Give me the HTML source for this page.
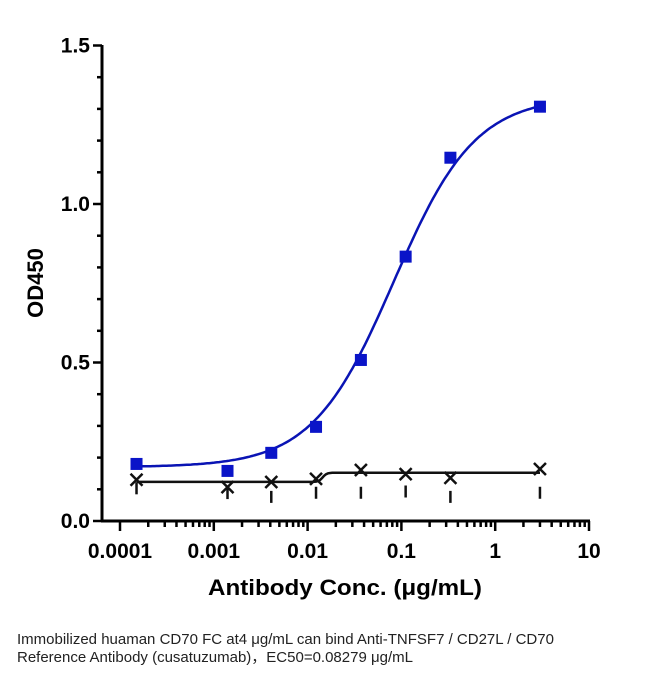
<!DOCTYPE html>
<html><head><meta charset="utf-8"><style>
body{margin:0;background:#fff;width:666px;height:677px;overflow:hidden}
svg{display:block;font-family:"Liberation Sans",Arial,sans-serif}
.cap{position:absolute;left:17px;top:631px;font-family:"Liberation Sans","Noto Sans CJK SC",sans-serif;font-size:15px;color:#222;line-height:18px;white-space:nowrap}
</style></head><body>
<svg id="chart" width="666" height="677" viewBox="0 0 666 677"></svg>
<div class="cap">Immobilized huaman CD70 FC at4 μg/mL can bind  Anti-TNFSF7 / CD27L / CD70<br>Reference Antibody (cusatuzumab)，EC50=0.08279 μg/mL</div>
<script>
const conc = [0.00015,0.0014,0.0041,0.0123,0.037,0.111,0.333,3.0];
const blueVals = [0.180,0.158,0.215,0.297,0.508,0.834,1.146,1.307];
const blackVals = [0.130,0.107,0.123,0.133,0.161,0.148,0.136,0.164];
const blackErrLow = [0.122,0.107,0.095,0.108,0.108,0.112,0.095,0.108];
const yTicks = [0.0,0.5,1.0,1.5];
const yTickLabels = ["0.0","0.5","1.0","1.5"];
const xTicks = [0.0001,0.001,0.01,0.1,1,10];
const xTickLabels = ["0.0001","0.001","0.01","0.1","1","10"];
const fitBottom=0.17, fitTop=1.34, fitEC50=0.08279, fitHill=1.0;

const NS="http://www.w3.org/2000/svg";
const svg=document.getElementById('chart');
const X0=120, DEC=93.8, Y0=521, YS=317;
const xs=v=>X0+(Math.log10(v)+4)*DEC;
const ys=v=>Y0-v*YS;
function mk(t,a,p){const e=document.createElementNS(NS,t);for(const k in a)e.setAttribute(k,a[k]);(p||svg).appendChild(e);return e;}

let e=mk('line',{x1:102,y1:45,x2:102,y2:522,stroke:'#000','stroke-width':3});


e=mk('line',{x1:101,y1:521,x2:590,y2:521,stroke:'#000','stroke-width':3});


for(let i=0;i<=15;i++){const v=i/10,y=ys(v),maj=i%5===0;
  mk('line',{x1:maj?93:97,y1:y,x2:102,y2:y,stroke:'#000','stroke-width':2.5});}
yTicks.forEach((v,i)=>{const t=mk('text',{x:90,y:ys(v)+7,'text-anchor':'end','font-size':21,'font-weight':'bold'});t.textContent=yTickLabels[i];

});
for(let d=-4;d<1;d++)for(let m=1;m<=9;m++){const x=xs(m*Math.pow(10,d));
  mk('line',{x1:x,y1:521,x2:x,y2:m===1?531:527,stroke:'#000','stroke-width':2.5});}
mk('line',{x1:xs(10),y1:521,x2:xs(10),y2:531,stroke:'#000','stroke-width':2.5});
xTicks.forEach((v,i)=>{const t=mk('text',{x:xs(v),y:558,'text-anchor':'middle','font-size':21,'font-weight':'bold'});t.textContent=xTickLabels[i];

});
e=mk('text',{x:208,y:595,'font-size':22,'font-weight':'bold',textLength:274,lengthAdjust:'spacingAndGlyphs'});e.textContent='Antibody Conc. (μg/mL)';


e=mk('text',{x:0,y:0,'text-anchor':'middle','font-size':22,'font-weight':'bold',transform:'translate(43,283) rotate(-90)'});e.textContent='OD450';



let d='';
for(let i=0;i<=200;i++){const lx=Math.log10(conc[0])+i*(Math.log10(conc[7])-Math.log10(conc[0]))/200;const c=Math.pow(10,lx);
 const v=fitBottom+(fitTop-fitBottom)/(1+Math.pow(fitEC50/c,fitHill));d+=(i?'L':'M')+xs(c).toFixed(1)+','+ys(v).toFixed(1);}
e=mk('path',{d:d,fill:'none',stroke:'#0a14b4','stroke-width':2.5});



const lowMean=(blackVals[0]+blackVals[1]+blackVals[2]+blackVals[3])/4;
const highMean=(blackVals[4]+blackVals[5]+blackVals[6]+blackVals[7])/4;
let bd='';
for(let i=0;i<=200;i++){const lx=Math.log10(conc[0])+i*(Math.log10(conc[7])-Math.log10(conc[0]))/200;const c=Math.pow(10,lx);
 const v=lowMean+(highMean-lowMean)/(1+Math.pow(0.0145/c,20));bd+=(i?'L':'M')+xs(c).toFixed(1)+','+ys(v).toFixed(1);}
e=mk('path',{d:bd,fill:'none',stroke:'#111','stroke-width':2.5});



conc.forEach((c,i)=>{
 const x=xs(c);
 const eb=mk('line',{x1:x,y1:ys(blackErrLow[i]),x2:x,y2:ys(blackErrLow[i])+12,stroke:'#111','stroke-width':2.5});
 
 
 const y=ys(blackVals[i]);
 const g=mk('path',{d:`M${x-6},${y-6}L${x+6},${y+6}M${x-6},${y+6}L${x+6},${y-6}`,stroke:'#111','stroke-width':2.5,fill:'none'});
 
 
 const r=mk('rect',{x:x-6,y:ys(blueVals[i])-6,width:12,height:12,fill:'#0a14c8'});
 
 
});
</script>
</body></html>
